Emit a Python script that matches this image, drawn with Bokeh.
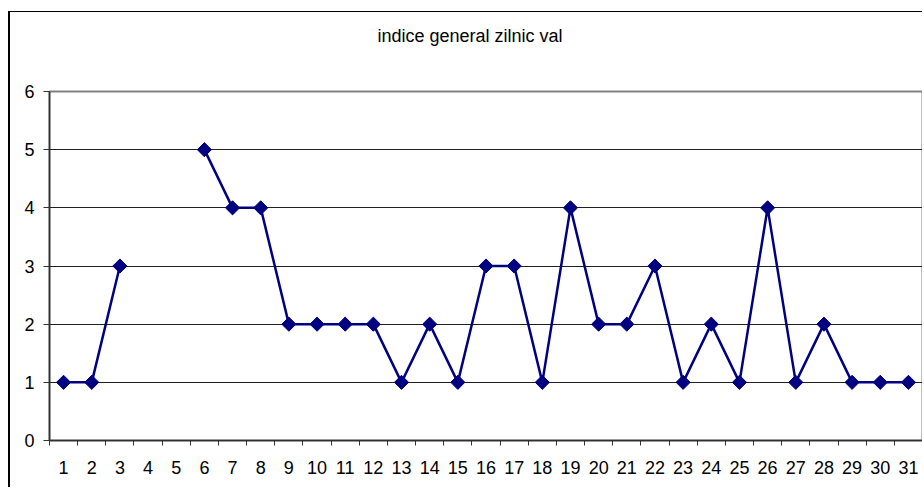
import numpy as np
from bokeh.plotting import figure
from bokeh.models import FixedTicker, Range1d, Title
from bokeh.embed import file_html
from bokeh.resources import INLINE

# ---- data ----
days = list(range(1, 32))
values = [1, 1, 3, np.nan, np.nan, 5, 4, 4, 2, 2, 2, 2, 1, 2, 1, 3, 3, 1, 4, 2, 2, 3, 1, 2, 1, 4, 1, 2, 1, 1, 1]
y_ticks = [0, 1, 2, 3, 4, 5, 6]
title_text = "indice general zilnic val"

FONT = "Liberation Sans"
FS = "18px"

p = figure(width=914, height=476, output_backend="svg", toolbar_location=None,
           x_range=Range1d(0.5, 31.5), y_range=Range1d(0, 6),
           min_border_left=39, min_border_right=2, min_border_top=79, min_border_bottom=48)
p.margin = (11, 0, 0, 8)
p.styles = {"border-left": "2px solid black", "border-top": "1.5px solid black"}

# spacer between plot area and title, then the title itself (outermost)
p.add_layout(Title(text=" ", text_font_size="1px", standoff=42), "above")
p.add_layout(Title(text=title_text, align="left", offset=328, standoff=2,
                   text_font=FONT, text_font_size=FS, text_font_style="normal",
                   text_color="#000000"), "above")

p.background_fill_color = "white"
p.border_fill_color = "white"
p.outline_line_color = "#808080"
p.outline_line_width = 2

# x axis
p.xaxis.ticker = FixedTicker(ticks=days, minor_ticks=[d + 0.5 for d in [0] + days])
p.xaxis.major_tick_out = 0
p.xaxis.major_tick_in = 0
p.xaxis.minor_tick_out = 5
p.xaxis.minor_tick_in = 0
p.xaxis.minor_tick_line_color = "#303030"
p.xaxis.axis_line_color = "#303030"
p.xaxis.axis_line_width = 1.5
p.xaxis.major_label_standoff = 15
p.xaxis.major_label_text_font = FONT
p.xaxis.major_label_text_font_size = FS
p.xaxis.major_label_text_color = "#000000"

# y axis
p.yaxis.ticker = FixedTicker(ticks=y_ticks)
p.yaxis.major_tick_out = 6
p.yaxis.major_tick_in = 0
p.yaxis.minor_tick_out = 0
p.yaxis.minor_tick_in = 0
p.yaxis.major_tick_line_color = "#303030"
p.yaxis.axis_line_color = "#303030"
p.yaxis.axis_line_width = 1.5
p.yaxis.major_label_standoff = 9
p.yaxis.major_label_text_font = FONT
p.yaxis.major_label_text_font_size = FS
p.yaxis.major_label_text_color = "#000000"

p.xgrid.visible = False
p.ygrid.grid_line_color = "#202020"
p.ygrid.grid_line_width = 1

p.line(days, values, line_color="#000080", line_width=2.5)
p.scatter(days, values, marker="square", angle=np.pi / 4, size=10,
          fill_color="#000080", line_color="#000080")

open("out.html", "w").write(file_html(p, INLINE))
